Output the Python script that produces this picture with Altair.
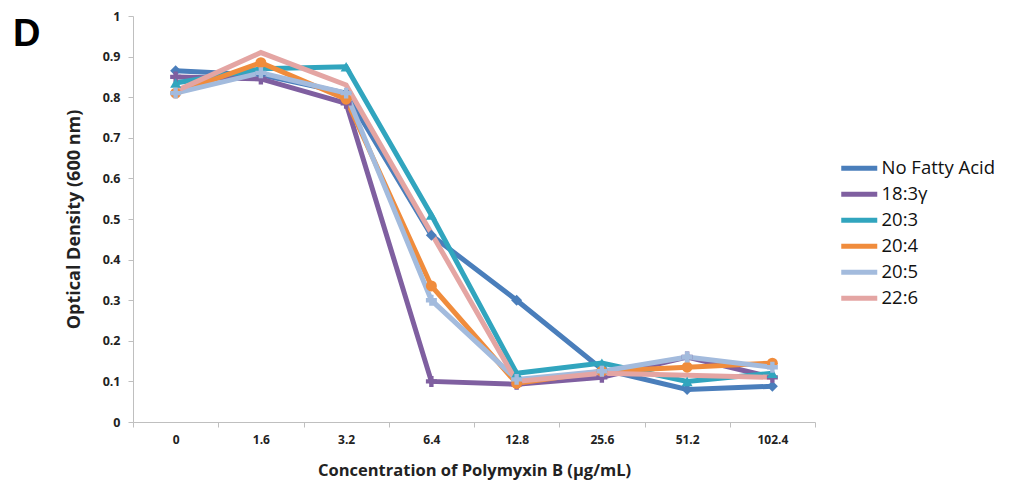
import altair as alt
import pandas as pd

concentrations = ["0", "1.6", "3.2", "6.4", "12.8", "25.6", "51.2", "102.4"]
series_names = ["No Fatty Acid", "18:3γ", "20:3", "20:4", "20:5", "22:6"]
no_fatty_acid = [0.865, 0.855, 0.81, 0.46, 0.30, 0.13, 0.08, 0.088]
fa_18_3g = [0.85, 0.845, 0.785, 0.10, 0.093, 0.11, 0.16, 0.11]
fa_20_3 = [0.835, 0.87, 0.875, 0.51, 0.12, 0.145, 0.10, 0.12]
fa_20_4 = [0.81, 0.885, 0.795, 0.335, 0.095, 0.125, 0.135, 0.145]
fa_20_5 = [0.81, 0.86, 0.81, 0.30, 0.105, 0.125, 0.16, 0.135]
fa_22_6 = [0.815, 0.91, 0.83, 0.465, 0.10, 0.12, 0.115, 0.11]
colors = ["#4a7ebb", "#7f5fa0", "#31a5be", "#f08c3c", "#a3bbdd", "#e4a5a3"]
shapes = ["diamond", "cross", "triangle-up", "circle", "cross", "circle"]

all_values = [no_fatty_acid, fa_18_3g, fa_20_3, fa_20_4, fa_20_5, fa_22_6]
rows = []
for si, (name, vals) in enumerate(zip(series_names, all_values)):
    for c, v in zip(concentrations, vals):
        rows.append({"series": name, "marker_series": name, "conc": c, "od": v, "order": si})
df = pd.DataFrame(rows)

x_enc = alt.X("conc:N", sort=concentrations,
              scale=alt.Scale(paddingInner=0, paddingOuter=0),
              axis=alt.Axis(title="Concentration of Polymyxin B (μg/mL)", labelAngle=0,
                            tickBand="extent", domainColor="#bfbfbf", tickColor="#bfbfbf",
                            tickSize=5, labelPadding=7, labelFont="Open Sans", labelFontWeight="bold",
                            labelFontSize=12, labelColor="#222222", titleFont="Open Sans",
                            titleFontWeight="bold", titleFontSize=16.5, titleColor="#222222",
                            titlePadding=17))
y_enc = alt.Y("od:Q", scale=alt.Scale(domain=[0, 1]),
              axis=alt.Axis(title="Optical Density (600 nm)", values=[i / 10 for i in range(11)],
                            format="~g", grid=False, domainColor="#bfbfbf", tickColor="#bfbfbf",
                            tickSize=5, labelPadding=8, labelFont="Open Sans", labelFontWeight="bold",
                            labelFontSize=12.5, labelColor="#222222", titleFont="Open Sans",
                            titleFontWeight="bold", titleFontSize=18, titleColor="#222222",
                            titlePadding=19))
color_enc = alt.Color("series:N", sort=series_names,
                      scale=alt.Scale(domain=series_names, range=colors),
                      legend=alt.Legend(title=None, orient="none", legendX=717, legendY=143,
                                        symbolType="M-3.6,0L3.6,0", symbolStrokeWidth=5, symbolSize=100,
                                        labelFont="Open Sans", labelFontSize=18.5, labelColor="#111111",
                                        rowPadding=5, labelOffset=13))

lines = alt.Chart(df).mark_line(strokeWidth=5).encode(
    x=x_enc, y=y_enc, color=color_enc, order="order:Q"
)
pts = alt.Chart(df).transform_filter(alt.datum.series != "22:6").mark_point(
    filled=True, size=120, opacity=1
).encode(
    x=x_enc, y=y_enc,
    color=alt.Color("marker_series:N", scale=alt.Scale(domain=series_names, range=colors), legend=None),
    shape=alt.Shape("marker_series:N", scale=alt.Scale(domain=series_names, range=shapes), legend=None),
)

chart = alt.layer(lines, pts).resolve_scale(color="independent").properties(
    width=682, height=406,
    title=alt.TitleParams("D", anchor="start", frame="group", dx=-120, dy=48, fontSize=38,
                          font="Liberation Sans", fontWeight="bold", color="#000000"),
    padding={"left": 125, "top": 8, "right": 205, "bottom": 60},
    autosize=alt.AutoSizeParams(type="none"),
).configure_view(stroke=None)

chart.save("out.html", embed_options={"renderer": "svg", "actions": False})
